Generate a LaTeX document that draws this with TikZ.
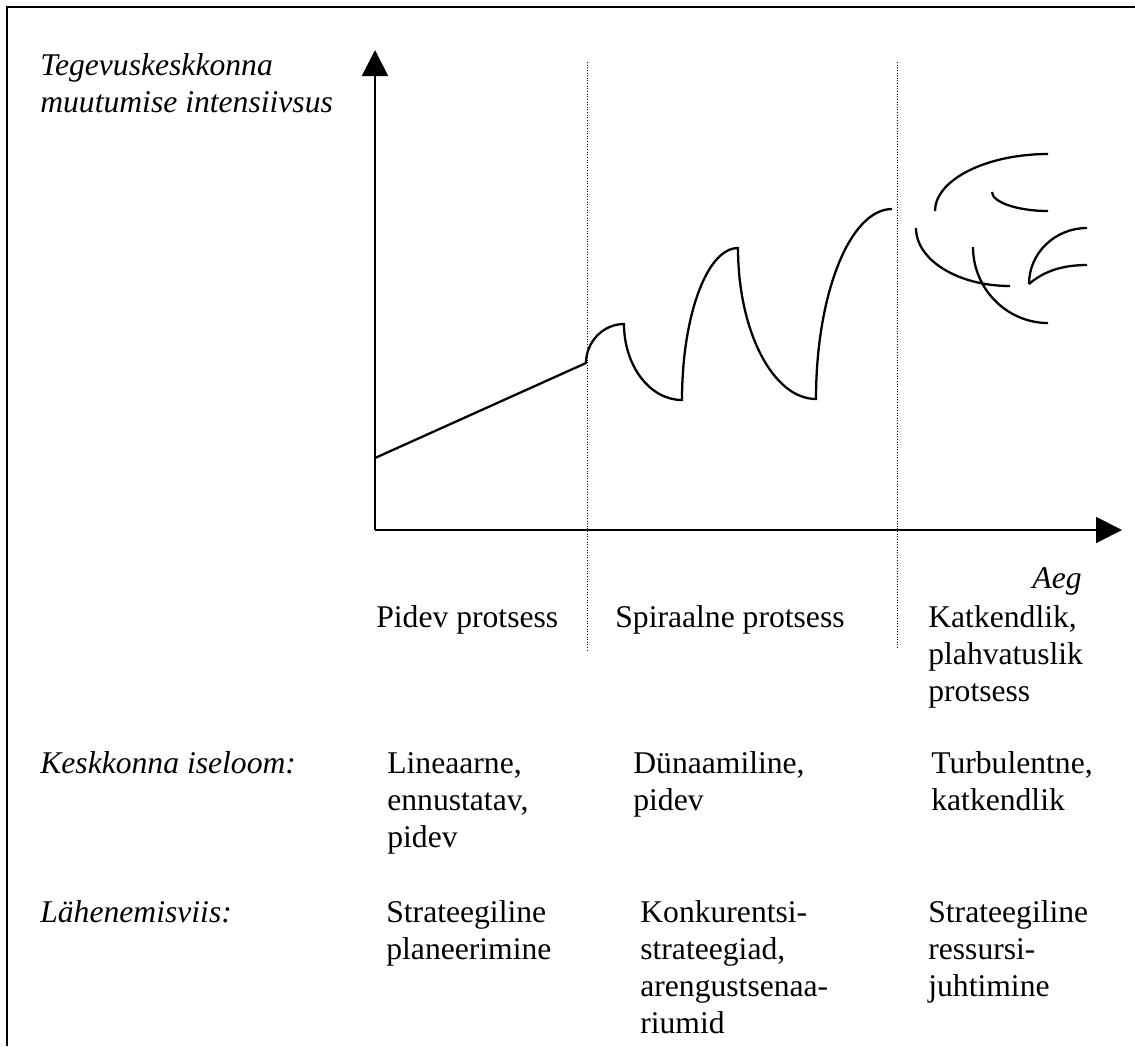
\documentclass[tikz,border=0pt]{standalone}
\usepackage{fontspec}
\setmainfont{Liberation Serif}
\usetikzlibrary{arrows.meta}

\begin{document}
\begin{tikzpicture}[
    x=0.02cm, y=-0.02cm,
    txt/.style={
        font=\fontsize{18}{21}\selectfont,
        inner sep=0pt,
        anchor=base west,
        align=left
    },
    itxt/.style={txt, font=\fontsize{18}{21}\selectfont\itshape},
    axis/.style={line width=1.1pt, -{Triangle[length=0.52cm,width=0.52cm]}},
    curve/.style={line width=1.3pt},
    divider/.style={densely dotted, line width=0.5pt}
]
\useasboundingbox (0,0) rectangle (1135,1046);

% Frame
\draw[line width=1.6pt] (7,1046) -- (7,7) -- (1135,7);

% Axes
\coordinate (origin) at (375,530);
\coordinate (ytip) at (375,50);
\coordinate (xtip) at (1122,530);
\draw[axis] (origin) -- (ytip);
\draw[axis] (origin) -- (xtip);
% (multi-line nodes sit on the baseline of their last line)
\node[itxt] (ylabel) at (40,112) {Tegevuskeskkonna\\muutumise intensiivsus};
\node[itxt, anchor=base east] (xlabel) at (1082,588) {Aeg};

% Divider lines
\draw[divider] (587,62) -- (587,650);
\draw[divider] (897,62) -- (897,648);

% Continuous and spiral process
\draw[curve] (375,458) -- (586,363)
    .. controls (586,342) and (603,324) .. (624,324)
    .. controls (624,366) and (650,400) .. (682,400)
    .. controls (682,316) and (707,248) .. (738,248)
    .. controls (738,331) and (773,399) .. (816,399)
    .. controls (816,294) and (850,209) .. (892,209);

% Turbulent process
\draw[curve] (935,211) .. controls (935,180) and (986,154) .. (1048,154);
\draw[curve] (992,192) .. controls (992,202) and (1017,211) .. (1048,211);
\draw[curve] (916,228) .. controls (916,260) and (958,286) .. (1010,286);
\draw[curve] (973,247) .. controls (973,289) and (1007,323) .. (1048,323);
\draw[curve] (1029,284) .. controls (1029,253) and (1055,228) .. (1087,228);
\draw[curve] (1029,284) .. controls (1045,270) and (1065,265) .. (1087,265);

% Process names
\node[txt] (pidev) at (376,627) {Pidev protsess};
\node[txt] (spiraal) at (615,627) {Spiraalne protsess};
\node[txt] (katkend) at (928,701) {Katkendlik,\\plahvatuslik\\protsess};

% Environment
\node[itxt] (iseloom) at (40,773) {Keskkonna iseloom:};
\node[txt] (lineaarne) at (387,847) {Lineaarne,\\ennustatav,\\pidev};
\node[txt] (dynaamiline) at (633,810) {Dünaamiline,\\pidev};
\node[txt] (turbulentne) at (931,810) {Turbulentne,\\katkendlik};

% Approach
\node[itxt] (viis) at (40,922) {Lähenemisviis:};
\node[txt] (planeerimine) at (386,959) {Strateegiline\\planeerimine};
\node[txt] (konkurents) at (640,1033) {Konkurentsi-\\strateegiad,\\arengustsenaa-\\riumid};
\node[txt] (ressurss) at (928,996) {Strateegiline\\ressursi-\\juhtimine};

\end{tikzpicture}
\end{document}
